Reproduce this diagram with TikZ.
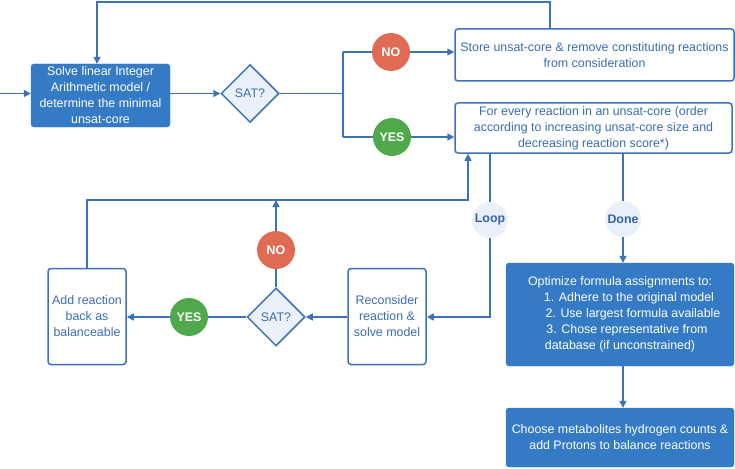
\documentclass[tikz,border=0pt]{standalone}
\usepackage{fontspec}
\setmainfont{Liberation Sans}
\usetikzlibrary{shapes.geometric,arrows.meta}
\definecolor{bfill}{HTML}{347AC4}
\definecolor{bline}{HTML}{3D72B8}
\definecolor{btext}{HTML}{3A6DB5}
\definecolor{dfill}{HTML}{EAF1FA}
\definecolor{nored}{HTML}{E06B55}
\definecolor{yesgreen}{HTML}{4FA84B}
\definecolor{cfill}{HTML}{E9F0FA}
\definecolor{ctext}{HTML}{3464A6}
\tikzset{
  every node/.style={font=\fontsize{12.4}{16}\selectfont},
  filledbox/.style={rectangle, rounded corners=3pt, fill=bfill, draw=bfill, text=white, align=center, inner sep=1pt},
  openbox/.style={rectangle, rounded corners=3pt, fill=white, draw=bline, line width=1.5pt, text=btext, align=center, inner sep=1pt},
  decide/.style={diamond, aspect=1, draw=bline, fill=dfill, line width=1.5pt, text=btext, inner sep=0pt, minimum size=58pt},
  nocirc/.style={circle, fill=nored, text=white, font=\fontsize{12.4}{14}\selectfont\bfseries, minimum size=38pt, inner sep=0pt},
  yescirc/.style={circle, fill=yesgreen, text=white, font=\fontsize{12.4}{14}\selectfont\bfseries, minimum size=38pt, inner sep=0pt},
  lcirc/.style={circle, fill=cfill, text=ctext, font=\fontsize{12.4}{14}\selectfont\bfseries, minimum size=36pt, inner sep=0pt},
  conn/.style={draw=bline, line width=1.5pt},
  arr/.style={conn, -{Triangle[length=7pt,width=7pt]}},
}
\begin{document}
\begin{tikzpicture}[x=1pt,y=-1pt]
\useasboundingbox (0,0) rectangle (735,468);
\node[filledbox, minimum width=139pt, minimum height=63pt] (box1) at (100.5,95.5) {Solve linear Integer\\Arithmetic model /\\determine the minimal\\unsat-core};
\node[decide] (d1) at (250,93.5) {SAT?};
\node[openbox, minimum width=279pt, minimum height=52pt] (store) at (594.5,55) {Store unsat-core \& remove constituting reactions\\from consideration};
\node[openbox, minimum width=277pt, minimum height=50pt] (forb) at (593.5,128) {For every reaction in an unsat-core (order\\according to increasing unsat-core size and\\decreasing reaction score*)};
\node[nocirc] (no1) at (391,52) {NO};
\node[yescirc] (yes1) at (392,137) {YES};
\node[filledbox, minimum width=228pt, minimum height=103pt] (optim) at (620,314.5) {Optimize formula assignments to:\\\hspace*{18pt}1. Adhere to the original model\\\hspace*{26pt}2. Use largest formula available\\\hspace*{14pt}3. Chose representative from\\database (if unconstrained)};
\node[filledbox, minimum width=228pt, minimum height=59pt] (choose) at (620,437.5) {Choose metabolites hydrogen counts \&\\add Protons to balance reactions};
\node[openbox, minimum width=78pt, minimum height=96pt] (recon) at (387,316.5) {Reconsider\\reaction \&\\solve model};
\node[openbox, minimum width=78pt, minimum height=96pt] (add) at (87,316.5) {Add reaction\\back as\\balanceable};
\node[decide] (d2) at (276,317) {SAT?};
\node[yescirc] (yes2) at (189,317) {YES};
\node[nocirc] (no2) at (276,250) {NO};
\node[lcirc] (loop) at (490,220) {Loop};
\node[lcirc] (done) at (623,219) {Done};
\coordinate (start) at (0,93.5);
\coordinate (tl) at (97,2);
\coordinate (tr) at (550,2);
\coordinate (split) at (343,93.5);
\coordinate (h) at (468,200);
% connectors
\draw[arr] (start) -- (box1.west |- start);
\draw[arr] (box1.east |- d1) -- (d1.west);
\draw[arr] (store.north -| tr) -- (tr) -- (tl) -- (tl |- box1.north);
\draw[conn] (d1.east) -- (split);
\draw[conn] (split |- no1) -- (split |- yes1);
\draw[conn] (split |- no1) -- (no1);
\draw[conn] (split |- yes1) -- (yes1);
\draw[arr] (no1) -- (store.west |- no1);
\draw[arr] (yes1) -- (forb.west |- yes1);
\draw[arr] (add.north) |- (h) -- (h |- forb.south);
\draw[conn] (d2.north) -- (no2);
\draw[arr] (no2) -- (no2 |- h);
\draw[conn] (d2.west) -- (yes2);
\draw[arr] (yes2) -- (add.east |- yes2);
\draw[arr] (recon.west |- d2) -- (d2.east);
\draw[conn] (forb.south -| loop) -- (loop);
\draw[arr] (loop) |- (recon.east |- d2);
\draw[conn] (forb.south -| done) -- (done);
\draw[arr] (done) -- (optim.north -| done);
\draw[arr] (optim.south -| done) -- (choose.north -| done);
\end{tikzpicture}
\end{document}
